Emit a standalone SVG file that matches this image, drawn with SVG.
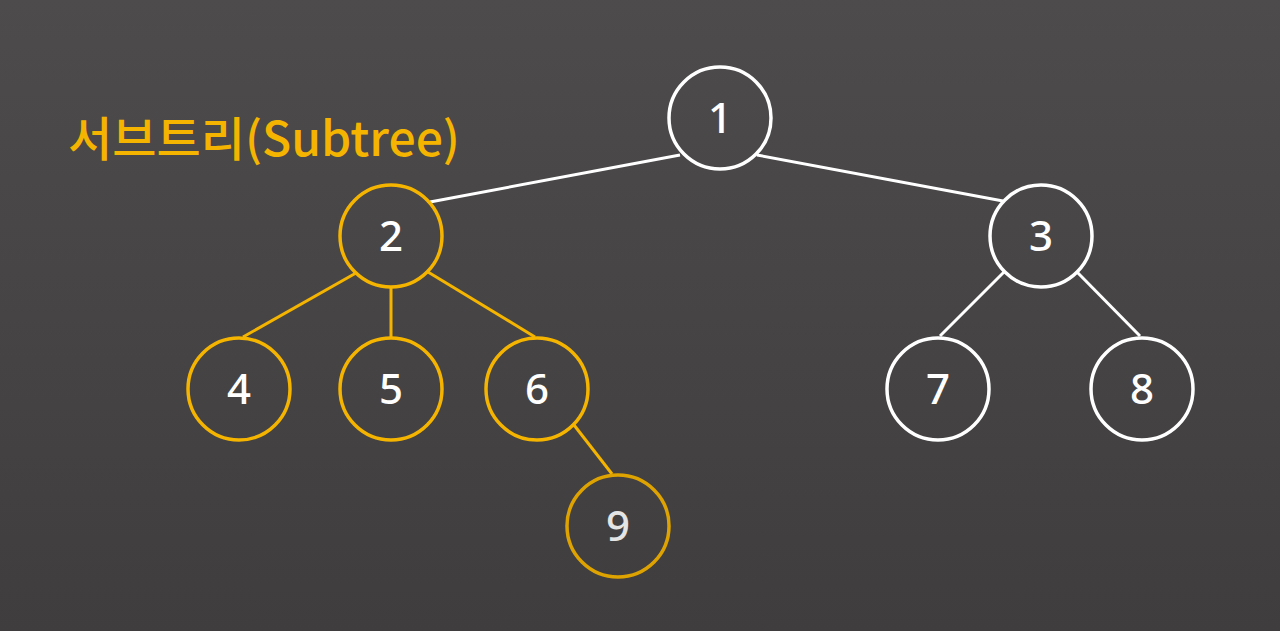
<svg xmlns="http://www.w3.org/2000/svg" width="1280" height="631" viewBox="0 0 1280 631">
<defs>
<linearGradient id="bg" x1="0" y1="0" x2="0" y2="1">
<stop offset="0" stop-color="#4d4b4c"/>
<stop offset="1" stop-color="#3f3d3e"/>
</linearGradient>
<style>
.n{fill:none;stroke-width:3.5}
.w{stroke:#ffffff}
.o{stroke:#f4b400}
.o9{stroke:#dea300}
.t{font-family:"Noto Sans","Noto Sans CJK KR",sans-serif;font-size:42px;font-weight:500;fill:#ffffff;text-anchor:middle}
.e{stroke-width:3;fill:none}
</style>
</defs>
<rect width="1280" height="631" fill="url(#bg)"/>
<text x="68" y="156" font-family="'Noto Sans CJK KR','Noto Sans',sans-serif" font-size="47" font-weight="500" fill="#f4b400" textLength="392" lengthAdjust="spacingAndGlyphs">서브트리(Subtree)</text>
<g id="connectors">
<line class="e w" x1="680" y1="155" x2="430" y2="202"/>
<line class="e w" x1="757" y1="155" x2="1003" y2="201"/>
<line class="e o" x1="356" y1="273" x2="243" y2="337"/>
<line class="e o" x1="391" y1="288" x2="391" y2="337"/>
<line class="e o" x1="428" y1="272" x2="535" y2="337"/>
<line class="e w" x1="1004" y1="272" x2="940" y2="336"/>
<line class="e w" x1="1077" y1="272" x2="1140" y2="336"/>
<line class="e o" x1="574" y1="425" x2="612" y2="474"/>
</g>
<g id="node1"><circle class="n w" cx="720" cy="118" r="51"/><text class="t" x="720" y="133">1</text></g>
<g id="node2"><circle class="n o" cx="391" cy="236" r="51"/><text class="t" x="391" y="251">2</text></g>
<g id="node3"><circle class="n w" cx="1041" cy="236" r="51"/><text class="t" x="1041" y="251">3</text></g>
<g id="node4"><circle class="n o" cx="239" cy="389" r="51"/><text class="t" x="239" y="404">4</text></g>
<g id="node5"><circle class="n o" cx="391" cy="389" r="51"/><text class="t" x="391" y="404">5</text></g>
<g id="node6"><circle class="n o" cx="537" cy="389" r="51"/><text class="t" x="537" y="404">6</text></g>
<g id="node7"><circle class="n w" cx="938" cy="389" r="51"/><text class="t" x="938" y="404">7</text></g>
<g id="node8"><circle class="n w" cx="1142" cy="389" r="51"/><text class="t" x="1142" y="404">8</text></g>
<g id="node9"><circle class="n o9" cx="618" cy="526" r="51"/><text class="t" x="618" y="541" style="fill:#e4e4e4">9</text></g>
</svg>
